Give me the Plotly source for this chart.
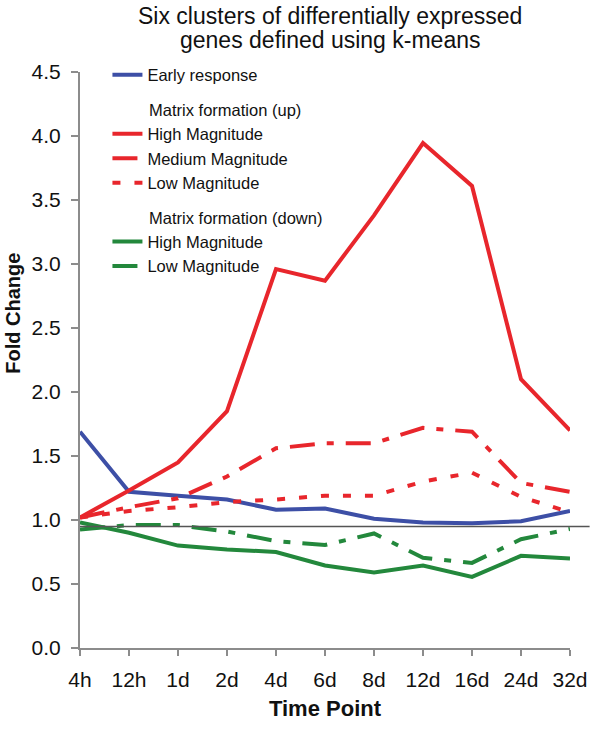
import plotly.graph_objects as go

time_points = ["4h", "12h", "1d", "2d", "4d", "6d", "8d", "12d", "16d", "24d", "32d"]
early_response = [1.69, 1.22, 1.19, 1.16, 1.08, 1.09, 1.01, 0.98, 0.975, 0.99, 1.07]
up_high = [1.02, 1.23, 1.45, 1.85, 2.96, 2.87, 3.38, 3.945, 3.61, 2.10, 1.70]
up_medium = [1.02, 1.10, 1.17, 1.34, 1.56, 1.60, 1.60, 1.72, 1.69, 1.29, 1.22]
up_low = [1.02, 1.07, 1.10, 1.14, 1.16, 1.19, 1.19, 1.30, 1.37, 1.18, 1.06]
down_high = [0.98, 0.90, 0.80, 0.77, 0.75, 0.645, 0.59, 0.645, 0.555, 0.72, 0.70]
down_low = [0.925, 0.96, 0.96, 0.91, 0.835, 0.805, 0.895, 0.705, 0.665, 0.85, 0.93]
baseline = 0.95
y_ticks = [0.0, 0.5, 1.0, 1.5, 2.0, 2.5, 3.0, 3.5, 4.0, 4.5]
title_lines = ["Six clusters of differentially expressed", "genes defined using k-means"]

BLUE = "#3d4fa6"
RED = "#e8262c"
GREEN = "#23883c"
AXIS = "#8c8c8c"
TXT = "#111111"
FONT = "Liberation Sans, Arial, sans-serif"
PAD = "\u00a0" * 8

x_idx = list(range(len(time_points)))

fig = go.Figure()

series = [
    ("Early response", early_response, BLUE, "solid", "early", None),
    ("High Magnitude", up_high, RED, "solid", "up", PAD + "Matrix formation (up)"),
    ("Medium Magnitude", up_medium, RED, "25px,12px,7px,12px", "up", None),
    ("Low Magnitude", up_low, RED, "8px,14px", "up", None),
    ("High Magnitude", down_high, GREEN, "solid", "down", PAD + "Matrix formation (down)"),
    ("Low Magnitude", down_low, GREEN, "25px,12px,7px,12px", "down", None),
]

for name, vals, color, dash, group, gtitle in series:
    kw = {}
    if gtitle:
        kw["legendgrouptitle"] = dict(text=gtitle, font=dict(size=16.5, color=TXT, family=FONT))
    fig.add_trace(go.Scatter(
        x=x_idx, y=vals, name=name, mode="lines",
        line=dict(color=color, width=4, dash=dash),
        legendgroup=group, **kw,
    ))

fig.add_shape(type="line", xref="paper", yref="y", x0=0, x1=1.04,
              y0=baseline, y1=baseline, line=dict(color="#555555", width=1.5),
              layer="above")

# title (two lines) and rotated y-axis title
fig.add_annotation(text=title_lines[0], xref="paper", yref="paper",
                   x=(336 - 80) / 501, y=(657 - 15) / 585, xanchor="center", yanchor="middle",
                   borderpad=0, showarrow=False, font=dict(size=23, color=TXT, family=FONT))
fig.add_annotation(text=title_lines[1], xref="paper", yref="paper",
                   x=(336 - 80) / 501, y=(657 - 39) / 585, xanchor="center", yanchor="middle",
                   borderpad=0, showarrow=False, font=dict(size=23, color=TXT, family=FONT))
fig.add_annotation(text="<b>Fold Change</b>", xref="paper", yref="paper",
                   x=(12 - 80) / 501, y=(657 - 317) / 585, xanchor="center", yanchor="middle",
                   textangle=-90, showarrow=False, font=dict(size=20, color=TXT, family=FONT))

fig.update_layout(
    width=600, height=729,
    margin=dict(l=80, r=19, t=72, b=72),
    paper_bgcolor="white", plot_bgcolor="white",
    font=dict(family=FONT, color=TXT),
    showlegend=True,
    legend=dict(
        x=0.056, xanchor="left", y=1.025, yanchor="top",
        bgcolor="rgba(0,0,0,0)", borderwidth=0,
        font=dict(size=16.5, color=TXT, family=FONT),
        traceorder="grouped", tracegroupgap=10,
    ),
    xaxis=dict(
        range=[0, 10], tickmode="array", tickvals=x_idx, ticktext=time_points,
        showgrid=False, zeroline=False, showline=True, linecolor=AXIS, linewidth=2,
        ticks="outside", ticklen=6, tickwidth=2, tickcolor=AXIS,
        tickfont=dict(size=21, color=TXT, family=FONT), ticklabelstandoff=6,
        title=dict(text="<b>Time Point</b>", font=dict(size=22, color=TXT, family=FONT), standoff=10),
    ),
    yaxis=dict(
        range=[0, 4.5], tickmode="array", tickvals=y_ticks,
        ticktext=[f"{v:.1f}" for v in y_ticks],
        showgrid=False, zeroline=False, showline=True, linecolor=AXIS, linewidth=2,
        ticks="outside", ticklen=7, tickwidth=2, tickcolor=AXIS,
        tickfont=dict(size=21, color=TXT, family=FONT), ticklabelstandoff=6,
    ),
)

fig.write_html("out.html", config={"displayModeBar": False},
               post_script="document.body.style.margin='0';")
